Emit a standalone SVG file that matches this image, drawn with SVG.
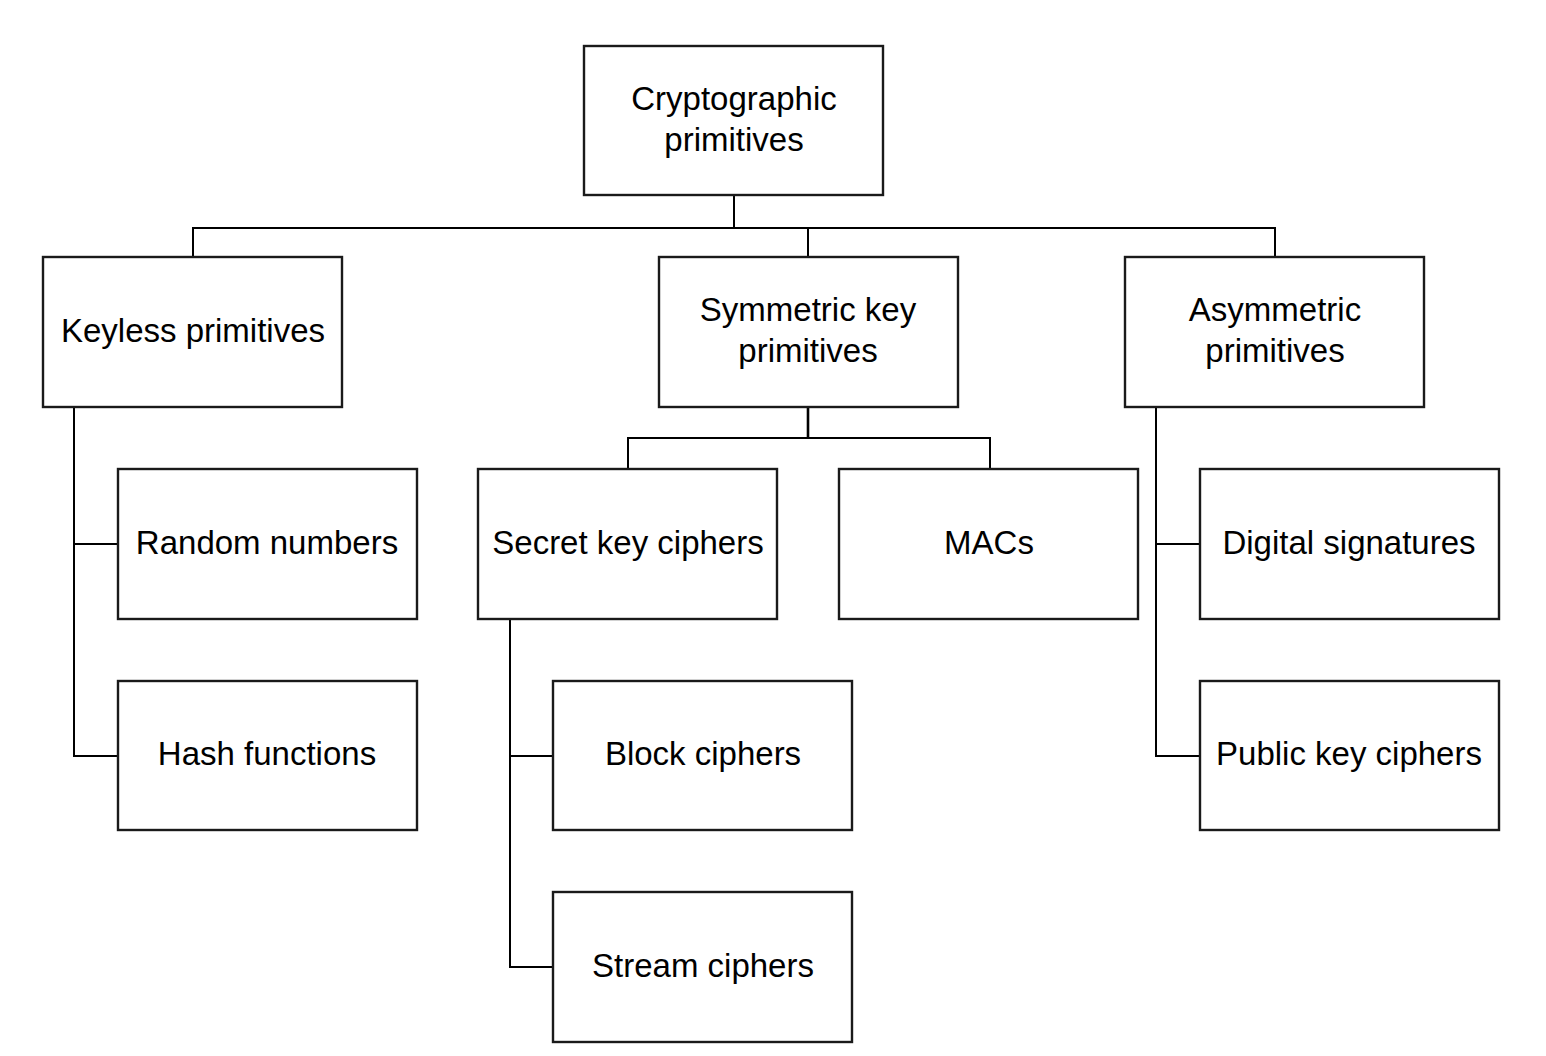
<svg xmlns="http://www.w3.org/2000/svg" width="1546" height="1056" viewBox="0 0 1546 1056">
<style>
.box{fill:#fff;stroke:#1a1a1a;stroke-width:2.4}
.lbl{font-family:"Liberation Sans",Arial,sans-serif;font-size:33px;fill:#000;text-anchor:middle}
.con{fill:none;stroke:#000;stroke-width:2}
</style>
<rect width="1546" height="1056" fill="#fff"/>
<g id="connectors">
<polyline class="con" points="734,195 734,228"/>
<polyline class="con" points="193,257 193,228 1275,228 1275,257"/>
<polyline class="con" points="808,228 808,257"/>
<polyline class="con" style="stroke-width:2.6" points="808,407 808,438"/>
<polyline class="con" points="628,469 628,438 990,438 990,469"/>
<polyline class="con" points="74,407 74,756 118,756"/>
<polyline class="con" points="74,544 118,544"/>
<polyline class="con" points="1156,407 1156,756 1200,756"/>
<polyline class="con" points="1156,544 1200,544"/>
<polyline class="con" points="510,619 510,967 553,967"/>
<polyline class="con" points="510,756 553,756"/>
</g>
<g id="root"><rect class="box" x="584" y="46" width="299" height="149"/><text class="lbl" x="734" y="110">Cryptographic</text><text class="lbl" x="734" y="151">primitives</text></g>
<g id="keyless"><rect class="box" x="43" y="257" width="299" height="150"/><text class="lbl" x="193" y="342">Keyless primitives</text></g>
<g id="symmetric"><rect class="box" x="659" y="257" width="299" height="150"/><text class="lbl" x="808" y="321">Symmetric key</text><text class="lbl" x="808" y="362">primitives</text></g>
<g id="asymmetric"><rect class="box" x="1125" y="257" width="299" height="150"/><text class="lbl" x="1275" y="321">Asymmetric</text><text class="lbl" x="1275" y="362">primitives</text></g>
<g id="random"><rect class="box" x="118" y="469" width="299" height="150"/><text class="lbl" x="267" y="554">Random numbers</text></g>
<g id="hash"><rect class="box" x="118" y="681" width="299" height="149"/><text class="lbl" x="267" y="765">Hash functions</text></g>
<g id="secret"><rect class="box" x="478" y="469" width="299" height="150"/><text class="lbl" x="628" y="554">Secret key ciphers</text></g>
<g id="macs"><rect class="box" x="839" y="469" width="299" height="150"/><text class="lbl" x="989" y="554">MACs</text></g>
<g id="digital"><rect class="box" x="1200" y="469" width="299" height="150"/><text class="lbl" x="1349" y="554">Digital signatures</text></g>
<g id="public"><rect class="box" x="1200" y="681" width="299" height="149"/><text class="lbl" x="1349" y="765">Public key ciphers</text></g>
<g id="block"><rect class="box" x="553" y="681" width="299" height="149"/><text class="lbl" x="703" y="765">Block ciphers</text></g>
<g id="stream"><rect class="box" x="553" y="892" width="299" height="150"/><text class="lbl" x="703" y="977">Stream ciphers</text></g>
</svg>
